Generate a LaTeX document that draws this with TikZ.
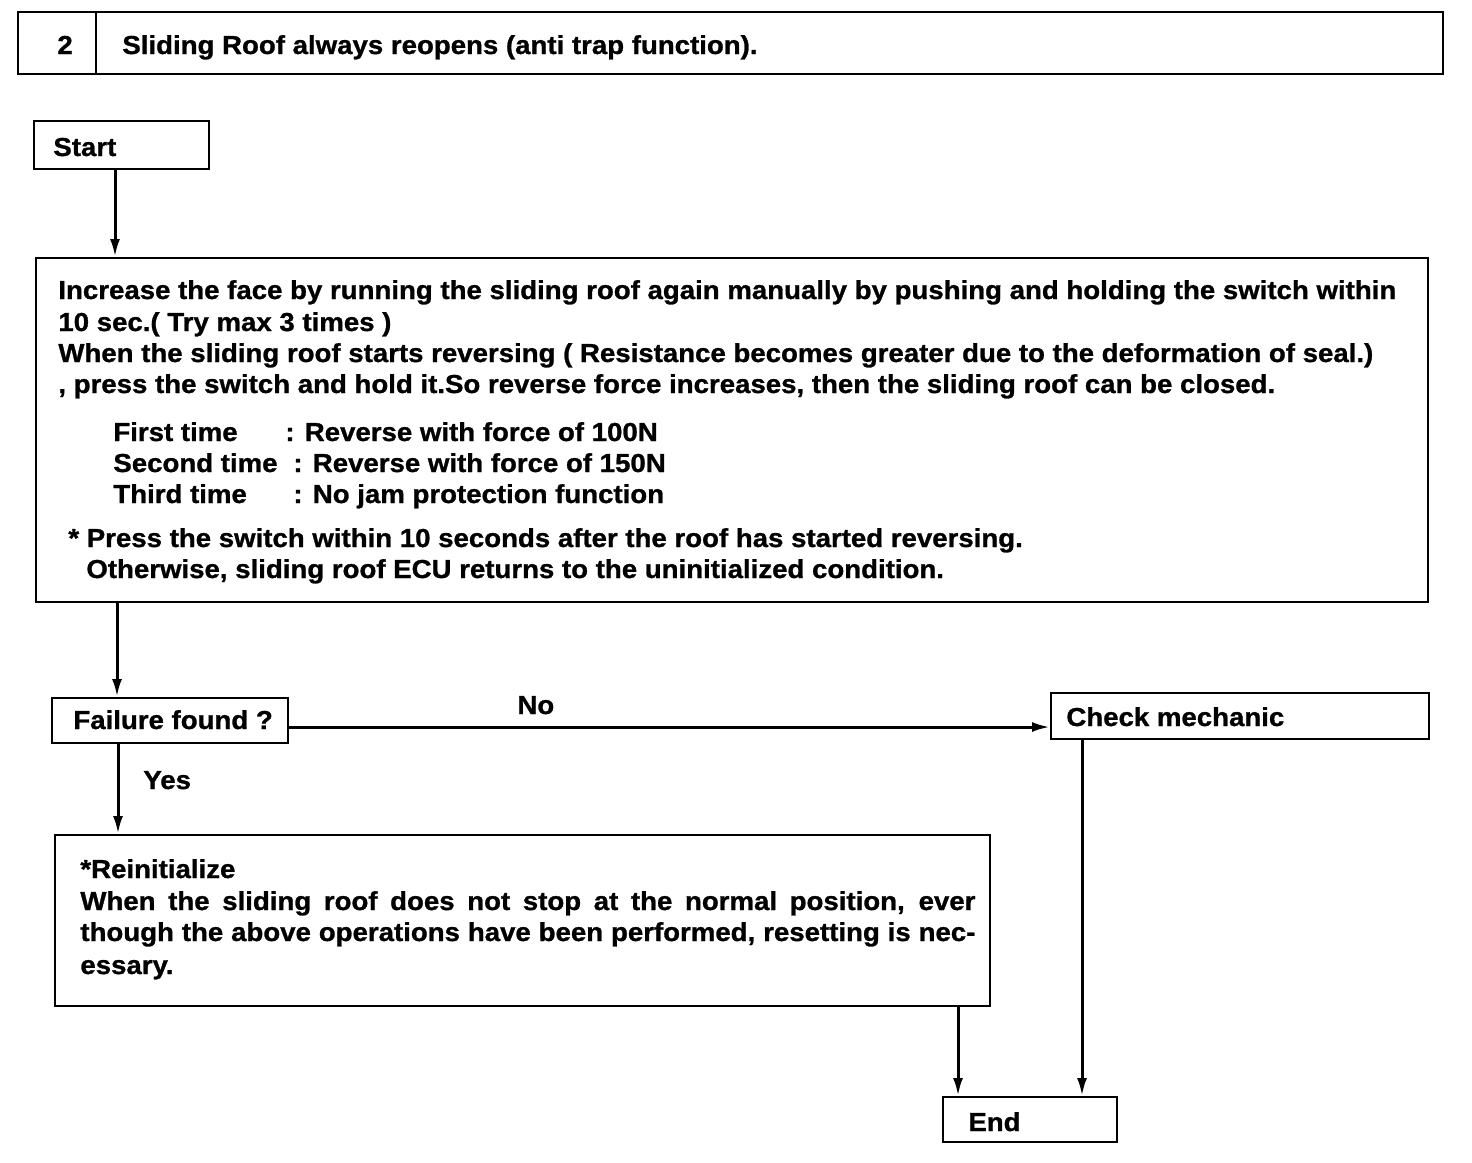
\documentclass[tikz,border=0pt]{standalone}
\usepackage{fontspec}
\setmainfont{Liberation Sans}[FakeStretch=1.062,FakeBold=1]
\usetikzlibrary{arrows.meta}
\begin{document}
\begin{tikzpicture}[x=0.5pt,y=-0.5pt,
  font=\bfseries\fontsize{13pt}{15.5pt}\selectfont,
  box/.style={draw,line width=1pt,inner sep=0pt},
  txt/.style={anchor=base west,inner sep=0pt},
  arr/.style={line width=1.5pt,-{Latex[length=9pt,width=5pt]}}]
\useasboundingbox (0,0) rectangle (1472,1162);
% title
\node[box,minimum width=712.5pt,minimum height=31pt] (title) at (730.5,43) {};
\draw[line width=1pt] ([xshift=39.5pt]title.north west) -- ([xshift=39.5pt]title.south west);
\node[txt] (num) at (57,54) {2};
\node[txt] (ttl) at (122,54) {Sliding Roof always reopens (anti trap function).};
% boxes
\node[box,minimum width=87.5pt,minimum height=24pt] (start) at (121.5,145) {};
\node[txt] (starttxt) at (53,156) {Start};
\node[box,minimum width=696pt,minimum height=172pt] (main) at (732,430) {};
\node[box,minimum width=118pt,minimum height=22.5pt] (fail) at (170,720.5) {};
\node[txt] (failtxt) at (73,729) {Failure found ?};
\node[box,minimum width=189pt,minimum height=23pt] (check) at (1240,716) {};
\node[txt] (checktxt) at (1066,726) {Check mechanic};
\node[box,minimum width=467.5pt,minimum height=85.5pt] (reinit) at (522.5,920.5) {};
\node[box,minimum width=87pt,minimum height=22.5pt] (end) at (1030,1119.5) {};
\node[txt] (endtxt) at (968,1131) {End};
% main text
\node[txt] (m1) at (58,299) {Increase the face by running the sliding roof again manually by pushing and holding the switch within};
\node[txt] (m2) at (58,331) {10 sec.( Try max 3 times )};
\node[txt] (m3) at (58,362) {When the sliding roof starts reversing ( Resistance becomes greater due to the deformation of seal.)};
\node[txt] (m4) at (58,393) {, press the switch and hold it.So reverse force increases, then the sliding roof can be closed.};
\node[txt] (l1a) at (113,441) {First time};
\node[txt] (l1b) at (285,441) {: Reverse with force of 100N};
\node[txt] (l2a) at (113,472) {Second time};
\node[txt] (l2b) at (293,472) {: Reverse with force of 150N};
\node[txt] (l3a) at (113,503) {Third time};
\node[txt] (l3b) at (293,503) {: No jam protection function};
\node[txt] (f1) at (68,547) {* Press the switch within 10 seconds after the roof has started reversing.};
\node[txt] (f2) at (86,578) {Otherwise, sliding roof ECU returns to the uninitialized condition.};
% reinit text
\node[txt] (r1) at (80,878) {*Reinitialize};
\node[txt] (r2) at (80,910) {\makebox[447.5pt][s]{When the sliding roof does not stop at the normal position, ever}};
\node[txt] (r3) at (80,941) {\makebox[447.5pt][s]{though the above operations have been performed, resetting is nec-}};
\node[txt] (r4) at (80,974) {essary.};
% connectors
\draw[arr] ([xshift=-3.25pt]start.south) -- ([xshift=-3.25pt]start.south |- main.north);
\draw[arr] ([xshift=-307.5pt]main.south) -- ([xshift=-307.5pt]main.south |- fail.north);
\draw[arr] ([yshift=-3.25pt]fail.east) -- ([yshift=-3.25pt]fail.east -| check.west);
\node[txt] (no) at (517,714) {No};
\draw[arr] ([xshift=-26pt]fail.south) -- ([xshift=-26pt]fail.south |- reinit.north);
\node[txt] (yes) at (143,789) {Yes};
\draw[arr] ([xshift=217.75pt]reinit.south) -- ([xshift=217.75pt]reinit.south |- end.north);
\draw[arr] ([xshift=-79pt]check.south) -- ([xshift=-79pt]check.south |- end.north);
\end{tikzpicture}
\end{document}
